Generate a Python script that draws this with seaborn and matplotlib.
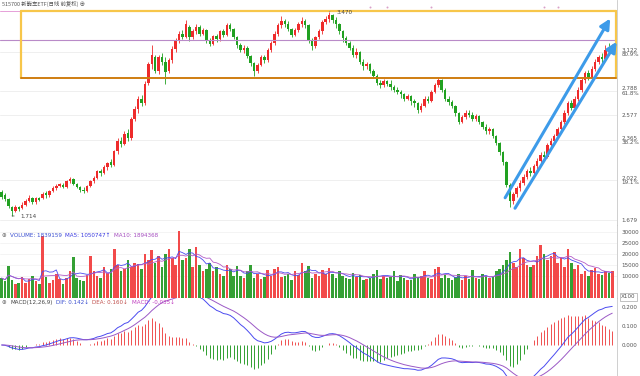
import numpy as np
import pandas as pd
import seaborn as sns
import matplotlib.pyplot as plt

# daily candles (price in yuan)
opens = [1.92, 1.89, 1.86, 1.79, 1.76, 1.79, 1.78, 1.81, 1.84, 1.87, 1.83, 1.87,
         1.87, 1.91, 1.89, 1.93, 1.95, 1.97, 1.98, 1.96, 2.01, 2.03, 1.99, 1.96,
         1.94, 1.93, 1.97, 2.01, 2.04, 2.10, 2.08, 2.13, 2.18, 2.15, 2.27, 2.36,
         2.33, 2.43, 2.38, 2.55, 2.63, 2.72, 2.68, 2.86, 3.02, 3.08, 2.96, 3.08,
         3.04, 2.96, 3.05, 3.15, 3.22, 3.28, 3.25, 3.34, 3.25, 3.30, 3.34, 3.28,
         3.31, 3.22, 3.19, 3.26, 3.23, 3.30, 3.27, 3.35, 3.32, 3.25, 3.18, 3.14,
         3.16, 3.09, 3.03, 2.96, 3.01, 3.08, 3.05, 3.14, 3.20, 3.28, 3.35, 3.39,
         3.36, 3.32, 3.27, 3.31, 3.36, 3.39, 3.35, 3.22, 3.17, 3.25, 3.30, 3.38,
         3.41, 3.44, 3.40, 3.36, 3.30, 3.24, 3.20, 3.16, 3.10, 3.12, 3.04, 3.00,
         3.02, 2.96, 2.92, 2.86, 2.84, 2.87, 2.85, 2.82, 2.80, 2.78, 2.76, 2.72,
         2.74, 2.70, 2.68, 2.62, 2.66, 2.72, 2.70, 2.78, 2.84, 2.88, 2.80, 2.72,
         2.69, 2.66, 2.60, 2.52, 2.56, 2.60, 2.58, 2.55, 2.57, 2.52, 2.48, 2.44,
         2.46, 2.40, 2.34, 2.26, 2.18, 1.98, 1.84, 1.90, 1.95, 2.00, 2.05, 2.10,
         2.08, 2.14, 2.19, 2.24, 2.22, 2.32, 2.36, 2.40, 2.46, 2.52, 2.60, 2.68,
         2.64, 2.72, 2.80, 2.88, 2.94, 2.90, 2.98, 3.04, 3.08, 3.06, 3.14, 3.12]
closes = [1.88, 1.86, 1.80, 1.76, 1.79, 1.77, 1.81, 1.84, 1.87, 1.83, 1.87, 1.85,
          1.90, 1.89, 1.93, 1.95, 1.97, 1.99, 1.96, 2.01, 2.03, 1.99, 1.96, 1.94,
          1.93, 1.97, 2.01, 2.04, 2.10, 2.08, 2.13, 2.17, 2.15, 2.27, 2.36, 2.33,
          2.42, 2.38, 2.55, 2.63, 2.72, 2.68, 2.85, 3.02, 3.10, 2.96, 3.08, 3.04,
          2.95, 3.05, 3.15, 3.22, 3.28, 3.25, 3.36, 3.25, 3.30, 3.34, 3.28, 3.31,
          3.22, 3.19, 3.26, 3.23, 3.30, 3.27, 3.35, 3.32, 3.25, 3.18, 3.14, 3.16,
          3.09, 3.03, 2.96, 3.01, 3.08, 3.05, 3.14, 3.20, 3.28, 3.35, 3.39, 3.36,
          3.32, 3.27, 3.31, 3.36, 3.39, 3.35, 3.22, 3.17, 3.25, 3.30, 3.38, 3.41,
          3.44, 3.40, 3.36, 3.30, 3.24, 3.20, 3.16, 3.10, 3.12, 3.04, 3.00, 3.02,
          2.96, 2.92, 2.86, 2.84, 2.87, 2.85, 2.82, 2.80, 2.78, 2.76, 2.72, 2.74,
          2.70, 2.68, 2.62, 2.66, 2.72, 2.70, 2.78, 2.84, 2.88, 2.80, 2.72, 2.69,
          2.66, 2.60, 2.52, 2.56, 2.60, 2.58, 2.55, 2.57, 2.52, 2.48, 2.44, 2.46,
          2.40, 2.34, 2.26, 2.18, 1.98, 1.84, 1.90, 1.95, 2.00, 2.05, 2.10, 2.08,
          2.14, 2.19, 2.24, 2.22, 2.32, 2.36, 2.40, 2.46, 2.52, 2.60, 2.68, 2.64,
          2.72, 2.80, 2.88, 2.94, 2.90, 2.98, 3.04, 3.08, 3.06, 3.14, 3.12, 3.16]
highs = [1.94, 1.91, 1.87, 1.80, 1.81, 1.80, 1.83, 1.86, 1.89, 1.88, 1.88, 1.88,
         1.92, 1.93, 1.94, 1.97, 1.99, 2.00, 2.00, 2.02, 2.05, 2.04, 2.00, 1.97,
         1.96, 1.98, 2.02, 2.06, 2.11, 2.12, 2.15, 2.18, 2.20, 2.28, 2.38, 2.39,
         2.44, 2.46, 2.56, 2.66, 2.74, 2.75, 2.87, 3.04, 3.18, 3.10, 3.10, 3.11,
         3.08, 3.07, 3.17, 3.24, 3.30, 3.31, 3.40, 3.35, 3.32, 3.36, 3.35, 3.33,
         3.32, 3.24, 3.27, 3.28, 3.31, 3.32, 3.37, 3.37, 3.33, 3.26, 3.20, 3.18,
         3.17, 3.10, 3.04, 3.03, 3.10, 3.10, 3.16, 3.22, 3.30, 3.37, 3.43, 3.41,
         3.39, 3.33, 3.33, 3.38, 3.42, 3.41, 3.36, 3.24, 3.26, 3.32, 3.40, 3.43,
         3.47, 3.45, 3.42, 3.37, 3.31, 3.26, 3.22, 3.18, 3.16, 3.13, 3.06, 3.04,
         3.03, 2.98, 2.93, 2.88, 2.89, 2.88, 2.88, 2.84, 2.82, 2.80, 2.77, 2.76,
         2.75, 2.72, 2.69, 2.68, 2.74, 2.74, 2.80, 2.86, 2.91, 2.89, 2.81, 2.74,
         2.71, 2.67, 2.61, 2.58, 2.62, 2.62, 2.61, 2.59, 2.58, 2.53, 2.50, 2.48,
         2.47, 2.41, 2.35, 2.27, 2.19, 2.00, 1.92, 1.97, 2.02, 2.07, 2.12, 2.13,
         2.16, 2.21, 2.26, 2.27, 2.34, 2.38, 2.42, 2.48, 2.54, 2.62, 2.70, 2.71,
         2.74, 2.82, 2.90, 2.96, 2.97, 3.00, 3.06, 3.10, 3.11, 3.18, 3.20, 3.19]
lows = [1.86, 1.84, 1.78, 1.714, 1.75, 1.76, 1.77, 1.80, 1.83, 1.82, 1.82, 1.84,
        1.86, 1.87, 1.88, 1.92, 1.94, 1.96, 1.95, 1.95, 2.00, 1.98, 1.95, 1.92,
        1.91, 1.92, 1.96, 2.00, 2.03, 2.06, 2.07, 2.11, 2.13, 2.14, 2.25, 2.31,
        2.32, 2.36, 2.37, 2.53, 2.60, 2.66, 2.67, 2.84, 2.98, 2.94, 2.93, 3.01,
        2.85, 2.94, 3.03, 3.12, 3.20, 3.23, 3.24, 3.22, 3.23, 3.28, 3.26, 3.27,
        3.20, 3.17, 3.18, 3.21, 3.22, 3.25, 3.26, 3.30, 3.23, 3.16, 3.12, 3.11,
        3.07, 3.00, 2.92, 2.94, 3.00, 3.03, 3.04, 3.12, 3.18, 3.26, 3.33, 3.34,
        3.30, 3.25, 3.26, 3.29, 3.34, 3.33, 3.20, 3.14, 3.16, 3.23, 3.28, 3.36,
        3.38, 3.37, 3.33, 3.28, 3.21, 3.18, 3.14, 3.08, 3.07, 3.02, 2.97, 2.98,
        2.94, 2.90, 2.84, 2.81, 2.82, 2.83, 2.80, 2.78, 2.76, 2.73, 2.70, 2.71,
        2.67, 2.65, 2.60, 2.61, 2.65, 2.68, 2.69, 2.77, 2.82, 2.78, 2.70, 2.67,
        2.64, 2.57, 2.50, 2.51, 2.55, 2.56, 2.53, 2.53, 2.50, 2.46, 2.42, 2.42,
        2.38, 2.32, 2.24, 2.15, 1.96, 1.79, 1.82, 1.88, 1.93, 1.98, 2.03, 2.06,
        2.07, 2.12, 2.17, 2.20, 2.21, 2.30, 2.34, 2.38, 2.44, 2.50, 2.58, 2.62,
        2.63, 2.70, 2.78, 2.86, 2.88, 2.89, 2.96, 3.02, 3.03, 3.05, 3.10, 3.11]
volumes = [9000, 7500, 14500, 8000, 6500, 7000, 9500, 7000, 8500, 10000, 7500, 6500,
           28000, 9500, 7000, 8000, 11000, 8500, 6500, 9000, 12000, 18500, 9000, 8000,
           7500, 10500, 19000, 12000, 10000, 9000, 14000, 11500, 13000, 22000, 15000, 12000,
           13000, 17000, 14000, 16000, 15500, 13000, 20000, 17000, 21500, 16000, 19000, 14000,
           20000, 22000, 18000, 15000, 30500, 17000, 18000, 22000, 14000, 23000, 15000, 12000,
           13000, 16000, 12000, 14000, 11000, 10000, 15000, 13000, 10000, 14500, 10000, 9000,
           12000, 15000, 9000, 11000, 8500, 9500, 12500, 10000, 13000, 14000, 9500, 10000,
           11000, 8000, 12000, 10500, 16000, 12000, 14500, 9000, 11000, 10000, 12500, 11000,
           13500, 11000, 9000, 12000, 10000, 9000, 8500, 11500, 9500, 10500, 8000, 8500,
           9000, 11000, 12500, 8500, 10000, 9000, 9500, 12000, 7500, 10500, 9000, 8000,
           8000, 11000, 9500, 10000, 12000, 9000, 8500, 13000, 14000, 9000, 10500, 9000,
           8000, 9500, 11000, 8000, 10000, 8500, 12500, 9000, 8500, 11000, 10000, 9000,
           9500, 12000, 13000, 15000, 17000, 21000, 16000, 14000, 22000, 18000, 15000, 14000,
           15000, 19000, 24000, 20000, 17000, 19000, 21000, 16000, 18000, 14000, 22000, 16000,
           13000, 15000, 11000, 12000, 10000, 12500, 13500, 11000, 10500, 12000, 11500, 12000]

fib_prices = [3.122, 2.788, 2.577, 2.365, 2.022, 1.679]
fib_labels = ["3.122\n80.9%", "2.788\n61.8%", "2.577", "2.365\n38.2%",
              "2.022\n19.1%", "1.679"]
vol_ticks = [30000, 25000, 20000, 15000, 10000]
macd_ticks = [0.2, 0.1, 0.0]

# drawn objects on the price panel (candle index, price)
box_left, box_top, box_bottom = 5.7, 3.475, 2.899
purple_level = 3.225
channel_upper = [(147.6, 1.87), (178.4, 3.41)]
channel_lower = [(150.5, 1.78), (180.3, 3.21)]
event_marks = [108, 113, 126, 159, 163]

RED, GREEN = "#ee2b2b", "#21a121"
FS = 4.1
XMAX = 180.4

sns.set_theme(style="white")
plt.rcParams["font.family"] = ["DejaVu Sans", "Noto Sans CJK SC"]
plt.rcParams["axes.linewidth"] = 0.6

o, c = np.array(opens), np.array(closes)
h, l = np.array(highs), np.array(lows)
x = np.arange(len(c))
up = c >= o
cols = np.where(up, RED, GREEN)

fig = plt.figure(figsize=(6.4, 3.76), dpi=100)
W = 617 / 640
ax = fig.add_axes([0, 151 / 376, W, 225 / 376])
axv = fig.add_axes([0, 78 / 376, W, 73 / 376], sharex=ax)
axm = fig.add_axes([0, 0, W, 78 / 376], sharex=ax)


def header(axis, y, parts):
    # a row of coloured texts, each placed right after the previous one
    prev = axis.text(0.003, y, parts[0][0], color=parts[0][1], transform=axis.transAxes,
                     fontsize=FS, va="center", ha="left")
    for s, col in parts[1:]:
        prev = axis.annotate(s, xy=(1, 0.5), xycoords=prev, xytext=(2.5, 0),
                             textcoords="offset points", va="center", ha="left",
                             fontsize=FS, color=col)


# ---- price panel
ax.vlines(x, l, h, colors=cols, linewidth=0.6)
ax.bar(x, np.maximum(np.abs(c - o), 0.004), bottom=np.minimum(o, c),
       width=0.72, color=cols, linewidth=0)
ax.set_xlim(-0.5, XMAX)
ax.set_ylim(1.636, 3.569)
for p in fib_prices:
    ax.axhline(p, color="#ececec", linewidth=0.6, zorder=0)

ax.axhline(purple_level, color="#b98bc8", linewidth=0.8)
ax.axhline(box_top, color="#e6a0d8", linewidth=0.7)
bx = XMAX - 0.2
ax.plot([box_left, bx], [box_top, box_top], color="#f7c64a", linewidth=1.6)
ax.plot([box_left, box_left], [box_top, box_bottom], color="#f7c64a", linewidth=1.6)
ax.plot([bx, bx], [box_top, box_bottom], color="#f7c64a", linewidth=1.6)
ax.plot([box_left, bx], [box_bottom, box_bottom], color="#cf7d10", linewidth=1.4)

for (x0, y0), (x1, y1) in [channel_upper, channel_lower]:
    ax.annotate("", xy=(x1, y1), xytext=(x0, y0), annotation_clip=False,
                arrowprops=dict(arrowstyle="-|>,head_length=0.5,head_width=0.25",
                                color="#3d9be9", lw=2.2, shrinkA=0, shrinkB=0))

ax.scatter(event_marks, [3.51] * len(event_marks), s=2, color="#d9a0c8",
           linewidths=0, zorder=3)

ipk, ilo = int(np.argmax(h)), int(np.argmin(l))
ax.annotate(f"{h[ipk]:.3f}", xy=(ipk, h[ipk]), xytext=(5, -1.5),
            textcoords="offset points", fontsize=FS, color="#444",
            arrowprops=dict(arrowstyle="-", color="#888", lw=0.5))
ax.annotate(f"{l[ilo]:.3f}", xy=(ilo, l[ilo]), xytext=(6, -1.5),
            textcoords="offset points", fontsize=FS, color="#444",
            arrowprops=dict(arrowstyle="-", color="#444", lw=0.5))

ax.text(0.003, 0.995, "515700 新能车ETF(日线 前复权) \u2295", transform=ax.transAxes,
        fontsize=3.9, color="#555", va="top", ha="left",
        family=["Noto Sans CJK SC", "DejaVu Sans"])

ax.set_yticks(fib_prices)
ax.set_yticklabels(fib_labels, linespacing=0.95)

# ---- volume panel
axv.bar(x, volumes, width=0.75, color=np.where(up, "#f24a4a", "#34a034"), linewidth=0)
vs = pd.Series(volumes, dtype=float)
sns.lineplot(x=x, y=vs.rolling(5, min_periods=1).mean().values, ax=axv,
             color="#4b4bf0", linewidth=0.6)
sns.lineplot(x=x, y=vs.rolling(10, min_periods=1).mean().values, ax=axv,
             color="#b35cc7", linewidth=0.6)
axv.set_ylim(0, 33000)
axv.set_yticks(vol_ticks)
axv.set_yticklabels([str(v) for v in vol_ticks])
header(axv, 0.86, [("\u2295", "#666"), ("VOLUME: 1839159", "#3a4fd0"),
                   ("MA5: 1050747\u2191", "#3a3ae0"), ("MA10: 1894368", "#a44cbf")])
fig.text(621 / 640, 1 - 297 / 376, "X100", fontsize=FS, color="#555", va="center",
         bbox=dict(boxstyle="square,pad=0.2", fc="white", ec="#aaa", lw=0.5))

# ---- MACD panel
s = pd.Series(closes)
dif = s.ewm(span=12, adjust=False).mean() - s.ewm(span=26, adjust=False).mean()
dea = dif.ewm(span=9, adjust=False).mean()
hist = 2 * (dif - dea)
axm.vlines(x, 0, hist, colors=np.where(hist >= 0, "#f05050", "#30a030"), linewidth=0.7)
sns.lineplot(x=x, y=dif.values, ax=axm, color="#4b4bf0", linewidth=0.7)
sns.lineplot(x=x, y=dea.values, ax=axm, color="#9b59c6", linewidth=0.7)
axm.set_ylim(-0.163, 0.247)
axm.set_yticks(macd_ticks)
axm.set_yticklabels([f"{v:.3f}" for v in macd_ticks])
header(axm, 0.94, [("\u2295", "#666"), ("MACD(12,26,9)", "#444"),
                   ("DIF: 0.142\u2193", "#3a4fd0"), ("DEA: 0.160\u2193", "#c0504d"),
                   ("MACD: -0.035\u2193", "#c040c0")])

for a in (ax, axv, axm):
    a.yaxis.tick_right()
    a.tick_params(axis="y", length=0, pad=3, labelsize=FS, labelcolor="#555")
    a.tick_params(axis="x", bottom=False, labelbottom=False)
    for side in ("left", "top"):
        a.spines[side].set_visible(False)
    for side in ("right", "bottom"):
        a.spines[side].set_color("#c8c8c8")
        a.spines[side].set_linewidth(0.6)
    a.set_facecolor("white")
for v in vol_ticks:
    axv.axhline(v, color="#f0f0f0", linewidth=0.5, zorder=0)
axm.spines["bottom"].set_visible(False)

fig.savefig("out.png", dpi=100)
